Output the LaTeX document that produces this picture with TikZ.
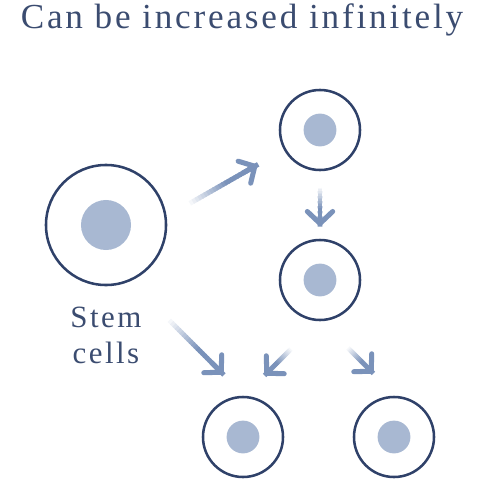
\documentclass[tikz,border=0pt]{standalone}
\usepackage{fontspec}
\setmainfont{Liberation Serif}
\newfontfamily\spacedserif[LetterSpace=8]{Liberation Serif}
\usetikzlibrary{arrows.meta,calc}
\definecolor{navy}{HTML}{2F4169}
\definecolor{inkblue}{HTML}{3B4C70}
\definecolor{dotblue}{HTML}{A8B8D2}
\definecolor{arrowblue}{HTML}{7A92BA}

% shaft goes from white to blue, then the head
\newcommand\growtharrow[2]{%
    \foreach \k in {0,...,23} {
        \pgfmathsetmacro\tint{min(100,\k*100/13)}
        \draw[arrowblue!\tint!white, line width=3.5pt] ($(#1)!{\k/24}!(#2)$) -- ($(#1)!{(\k+1.4)/24}!(#2)$);
    }
    \draw[growth] ($(#1)!0.8!(#2)$) -- (#2);
}

\begin{document}
\begin{tikzpicture}[x=0.025cm, y=-0.025cm,
    cell/.style={circle, draw=navy, line width=1.8pt, inner sep=0pt, minimum size=2cm,
        path picture={\fill[dotblue] (path picture bounding box.center) circle (0.41cm);}},
    stemcell/.style={cell, minimum size=3cm,
        path picture={\fill[dotblue] (path picture bounding box.center) circle (0.625cm);}},
    growth/.style={draw=arrowblue, line width=3.6pt, line cap=round,
        -{Straight Barb[round, length=8.5pt, width=18pt]}},
    caption/.style={text=inkblue, font=\spacedserif}]
        \useasboundingbox (0,0) rectangle (480,480);

        \node[caption, font=\spacedserif\fontsize{25}{28}\selectfont, anchor=base] (title) at (242,28) {Can be increased infinitely};

        \node[stemcell] (stem) at (106,225) {};
        \node[cell] (top) at (320,130) {};
        \node[cell] (mid) at (320,280) {};
        \node[cell] (left) at (243,437) {};
        \node[cell] (right) at (394,437) {};

        \node[caption, font=\spacedserif\fontsize{22}{25}\selectfont, align=center, anchor=base] (label) at (106,363) {Stem\\cells};

        % arrow ends
        \coordinate (s1) at (187,205);
        \coordinate (e1) at (257,165);
        \coordinate (s2) at (320,186);
        \coordinate (e2) at (320,226);
        \coordinate (s3) at (167,318);
        \coordinate (e3) at (223,374);
        \coordinate (s4) at (292,348);
        \coordinate (e4) at (265,375);
        \coordinate (s5) at (347,347);
        \coordinate (e5) at (373,373);

        \growtharrow{s1}{e1}
        \growtharrow{s2}{e2}
        \growtharrow{s3}{e3}
        \growtharrow{s4}{e4}
        \growtharrow{s5}{e5}
\end{tikzpicture}
\end{document}
